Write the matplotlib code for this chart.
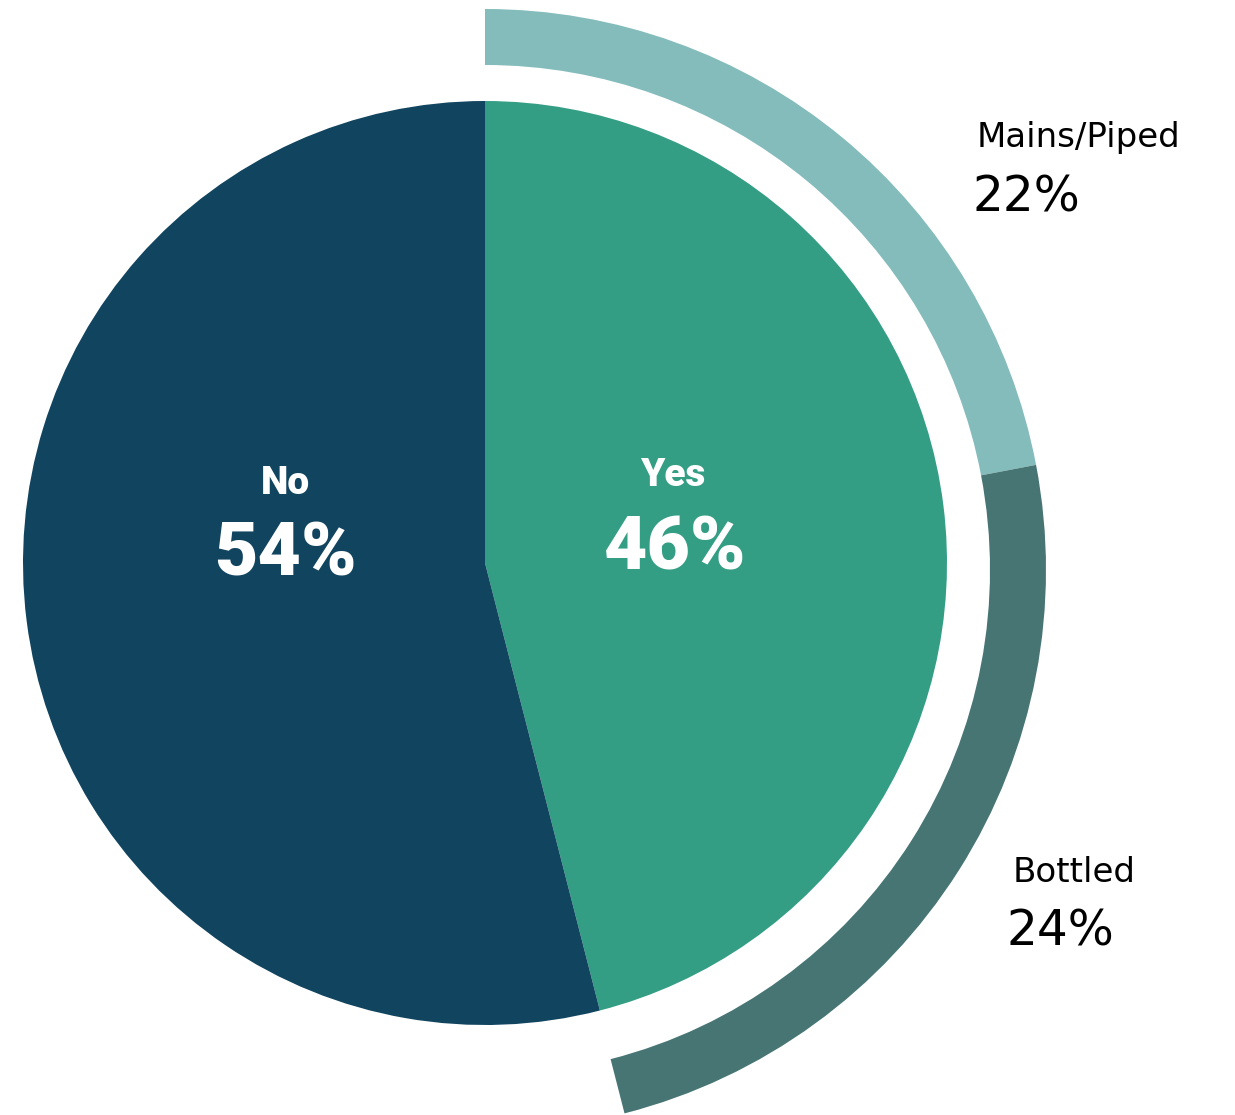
import matplotlib
matplotlib.use("Agg")
import matplotlib.pyplot as plt

# Main split: has a water supply or not
main_labels = ["Yes", "No"]
main_values = [46, 54]
main_colors = ["#349E85", "#10445F"]

# Breakdown of "Yes" by source (share of all respondents)
source_labels = ["Mains/Piped", "Bottled"]
source_values = [22, 24]
source_colors = ["#84BCBC", "#467574"]

W, H = 1235, 1115
fig = plt.figure(figsize=(W / 100, H / 100), dpi=100)
ax = fig.add_axes([0, 0, 1, 1])

# inner pie, clockwise from 12 o'clock
ax.pie(main_values, colors=main_colors, startangle=90, counterclock=False,
       center=(485, 552), radius=462, wedgeprops=dict(linewidth=0))

# outer ring covering only the "Yes" share
ax.pie([v / 100 for v in source_values], colors=source_colors, startangle=90,
       counterclock=False, normalize=False, center=(485, 545), radius=561,
       wedgeprops=dict(width=56, linewidth=0))

ax.set_xlim(0, W)
ax.set_ylim(0, H)
ax.set_aspect("equal", adjustable="box")
ax.axis("off")

bold = dict(color="white", ha="center", va="center", family="Roboto",
            fontweight="black")
ax.text(285, H - 483, main_labels[1], fontsize=28, **bold)
ax.text(285, H - 555, f"{main_values[1]}%", fontsize=54, **bold)
ax.text(673, H - 476, main_labels[0], fontsize=28, **bold)
ax.text(675, H - 549, f"{main_values[0]}%", fontsize=54, **bold)

light = dict(color="black", ha="left", va="center", family="DejaVu Sans")
ax.text(977, H - 138, source_labels[0], fontsize=24.5, **light)
ax.text(973, H - 197, f"{source_values[0]}%", fontsize=35, **light)
ax.text(1013, H - 873, source_labels[1], fontsize=24.5, **light)
ax.text(1006, H - 932, f"{source_values[1]}%", fontsize=35, **light)

fig.savefig("out.png", dpi=100)
